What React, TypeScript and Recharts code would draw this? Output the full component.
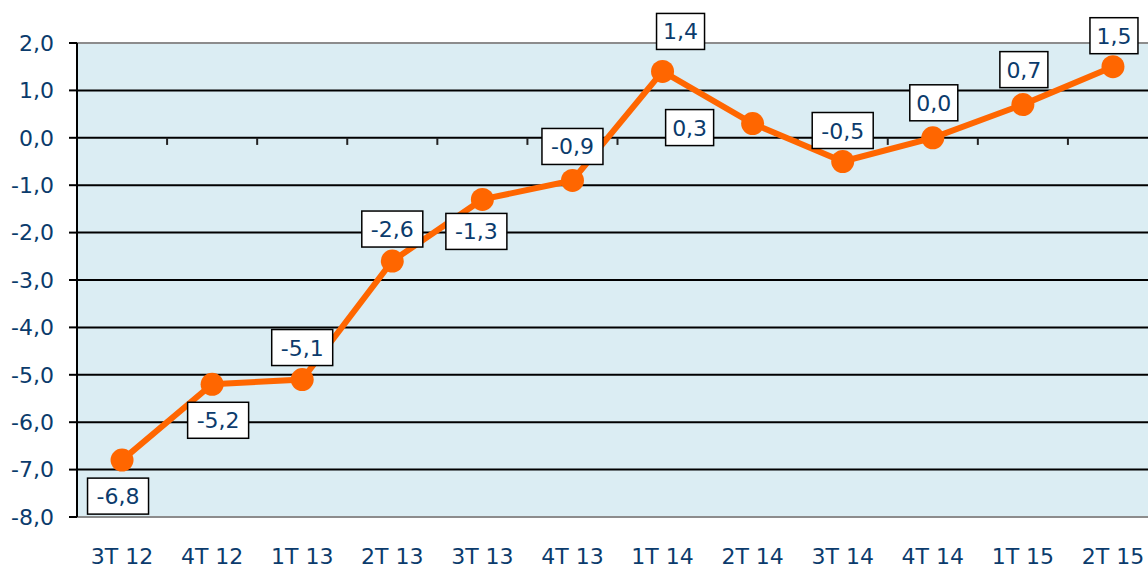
import { CartesianGrid, LabelList, Line, LineChart, ReferenceLine, XAxis, YAxis } from "recharts";

const quarters = ["3T 12", "4T 12", "1T 13", "2T 13", "3T 13", "4T 13", "1T 14", "2T 14", "3T 14", "4T 14", "1T 15", "2T 15"];
const values = [-6.8, -5.2, -5.1, -2.6, -1.3, -0.9, 1.4, 0.3, -0.5, 0.0, 0.7, 1.5];
const yTicks = [-8, -7, -6, -5, -4, -3, -2, -1, 0, 1, 2];

// where each value box sits relative to its point (dx, dy of the box centre)
const labelOffsets = [
  [-4, 36], [6, 36], [0, -32], [0, -32], [-6, 32], [0, -34],
  [18, -40], [-63, 4], [0, -31], [1, -35], [1, -35], [1, -31],
];

const navy = "#0b3b6c";
const font = "'DejaVu Sans', Verdana, sans-serif";

const data = values.map((v, i) => ({ idx: i, value: v }));
const fmt = (v: number) => v.toFixed(1).replace(".", ",");

function ValueBox(props: any) {
  const { x, y, value, index } = props;
  const [dx, dy] = labelOffsets[index];
  const text = fmt(value);
  const w = text.length * 13 + 9;
  const h = 36;
  const cx = x + dx;
  const cy = y + dy;
  return (
    <g>
      <rect x={cx - w / 2} y={cy - h / 2} width={w} height={h} fill="#fff" stroke="#000" strokeWidth={1.5} />
      <text x={cx} y={cy + 8} textAnchor="middle" fill={navy} fontSize={22} fontFamily={font}>
        {text}
      </text>
    </g>
  );
}

export default function App() {
  return (
    <div style={{ position: "absolute", left: 0, top: 0, width: 1148, height: 569, overflow: "hidden", background: "#fff" }}>
      <LineChart width={1200} height={569} data={data} margin={{ top: 43, right: 42, bottom: 0, left: 0 }}>
        <CartesianGrid vertical={false} stroke="#000" strokeWidth={2} fill="#dbedf3" />
        <XAxis
          dataKey="idx"
          type="number"
          domain={[-0.5, 11.5]}
          ticks={quarters.map((_, i) => i)}
          tickFormatter={(i: number) => quarters[i]}
          axisLine={false}
          tickLine={false}
          tickSize={0}
          tickMargin={31}
          height={52}
          interval={0}
          tick={{ fill: navy, fontSize: 22, fontFamily: font }}
        />
        <YAxis
          type="number"
          domain={[-8, 2]}
          ticks={yTicks}
          tickFormatter={fmt}
          width={77}
          axisLine={{ stroke: "#000", strokeWidth: 2 }}
          tickLine={{ stroke: "#000", strokeWidth: 2 }}
          tickSize={8}
          tickMargin={15}
          interval={0}
          tick={{ fill: navy, fontSize: 22, fontFamily: font }}
        />
        <ReferenceLine y={2} stroke="#8c8c8c" strokeWidth={2} />
        <ReferenceLine y={-8} stroke="#8c8c8c" strokeWidth={2} />
        {quarters.slice(1).map((_, i) => (
          <ReferenceLine
            key={i}
            segment={[{ x: i + 0.5, y: 0 }, { x: i + 0.5, y: -0.15 }]}
            stroke="#222"
            strokeWidth={2}
          />
        ))}
        <Line
          dataKey="value"
          stroke="#ff6600"
          strokeWidth={6}
          dot={{ r: 11.5, fill: "#ff6600", stroke: "none" }}
          activeDot={false}
          isAnimationActive={false}
        >
          <LabelList dataKey="value" content={<ValueBox />} />
        </Line>
      </LineChart>
    </div>
  );
}
